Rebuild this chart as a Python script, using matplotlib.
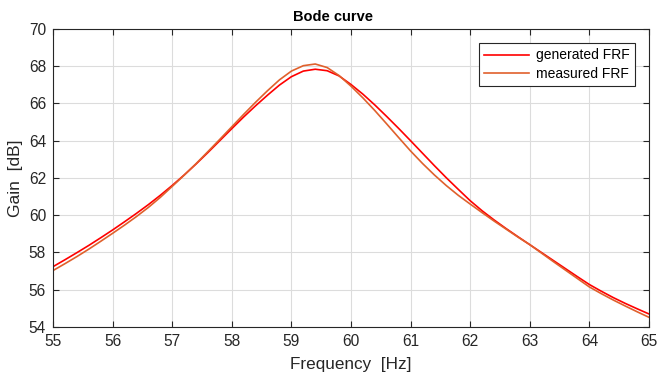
import matplotlib
matplotlib.use("Agg")
import matplotlib.pyplot as plt

plt.rcParams["font.family"] = ["Liberation Sans", "DejaVu Sans"]

freq = [55.0, 55.2, 55.4, 55.6, 55.8, 56.0, 56.2, 56.4, 56.6, 56.8,
        57.0, 57.2, 57.4, 57.6, 57.8, 58.0, 58.2, 58.4, 58.6, 58.8,
        59.0, 59.2, 59.4, 59.6, 59.8, 60.0, 60.2, 60.4, 60.6, 60.8,
        61.0, 61.2, 61.4, 61.6, 61.8, 62.0, 62.2, 62.4, 62.6, 62.8,
        63.0, 63.2, 63.4, 63.6, 63.8, 64.0, 64.2, 64.4, 64.6, 64.8, 65.0]

# generated FRF (dB)
gain_gen = [57.24, 57.61, 57.99, 58.38, 58.79, 59.21, 59.65, 60.10, 60.57, 61.07,
            61.60, 62.16, 62.75, 63.37, 64.01, 64.65, 65.28, 65.88, 66.45, 66.99,
            67.44, 67.74, 67.84, 67.76, 67.48, 67.02, 66.50, 65.92, 65.30, 64.66,
            64.00, 63.33, 62.66, 62.01, 61.39, 60.78, 60.24, 59.75, 59.29, 58.85,
            58.42, 57.99, 57.56, 57.13, 56.70, 56.28, 55.92, 55.58, 55.27, 54.98, 54.70]

# measured FRF (dB)
gain_meas = [57.03, 57.40, 57.78, 58.18, 58.60, 59.03, 59.47, 59.93, 60.42, 60.96,
             61.55, 62.15, 62.77, 63.42, 64.08, 64.75, 65.42, 66.07, 66.69, 67.27,
             67.74, 68.03, 68.12, 67.93, 67.50, 66.93, 66.30, 65.62, 64.90, 64.17,
             63.45, 62.78, 62.16, 61.59, 61.07, 60.60, 60.14, 59.69, 59.26, 58.83,
             58.42, 57.96, 57.50, 57.05, 56.60, 56.15, 55.79, 55.45, 55.13, 54.82, 54.52]

xticks = [55, 56, 57, 58, 59, 60, 61, 62, 63, 64, 65]
yticks = [54, 56, 58, 60, 62, 64, 66, 68, 70]

dark = "#262626"

fig = plt.figure(figsize=(6.57, 3.79), dpi=100)
ax = fig.add_axes([0.0807, 0.1372, 0.9071, 0.7863])

ax.plot(freq, gain_gen, color="#ff0000", lw=1.2, label="generated FRF")
ax.plot(freq, gain_meas, color="#e0602c", lw=1.2, label="measured FRF")

ax.set_xlim(55, 65)
ax.set_ylim(54, 70)
ax.set_xticks(xticks)
ax.set_yticks(yticks)
ax.grid(True, color="#dcdcdc", lw=0.8)
ax.set_axisbelow(True)
ax.tick_params(direction="in", top=True, right=True, length=4, width=0.8,
               colors=dark, labelsize=11.2, pad=5)
for s in ax.spines.values():
    s.set_color(dark)
    s.set_linewidth(0.8)

ax.set_title("Bode curve", fontsize=10.5, fontweight="bold", color="black",
             x=0.47, pad=6)
ax.set_xlabel("Frequency  [Hz]", fontsize=12.3, color=dark, labelpad=6)
ax.set_ylabel("Gain  [dB]", fontsize=12.5, color=dark, labelpad=4)

leg = ax.legend(loc="upper right", fontsize=10, fancybox=False, framealpha=1,
                edgecolor=dark, borderaxespad=1.0, handlelength=3.2,
                handletextpad=0.5, borderpad=0.4, labelspacing=0.3)
leg.get_frame().set_linewidth(0.8)

fig.savefig("out.png", dpi=100)
